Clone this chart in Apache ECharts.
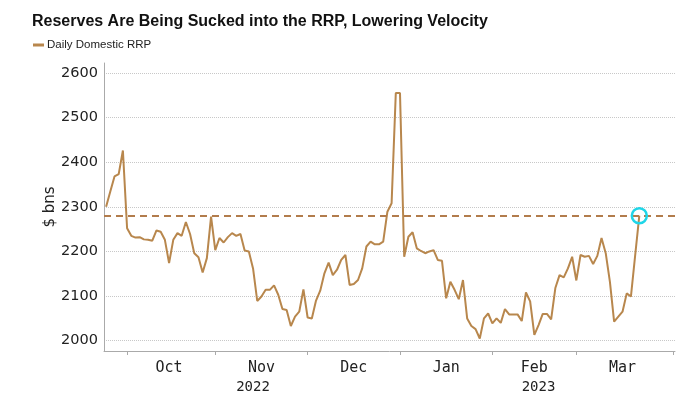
<!DOCTYPE html>
<html><head><meta charset="utf-8">
<script src="https://cdn.jsdelivr.net/npm/echarts@6/dist/echarts.min.js"></script>
<style>html,body{margin:0;padding:0;background:#fff}#c{width:700px;height:394px}</style>
</head><body><div id="c"></div>
<script>
const titleText = 'Reserves Are Being Sucked into the RRP, Lowering Velocity';
const seriesName = 'Daily Domestic RRP';
const yAxisName = '$ bns';
// weekday axis range
const firstDay = '2022-09-26';
const lastDay = '2023-04-03';
// Daily Domestic RRP, $ bn, one value per weekday starting 2022-09-26
const rrpValues = [
  2300, 2334, 2368, 2373, 2426, 2252, 2235, 2231, 2232, 2227,
  2226, 2224, 2247, 2244, 2226, 2174, 2226, 2241, 2235, 2266,
  2239, 2196, 2187, 2153, 2185, 2278, 2203, 2230, 2220, 2232,
  2241, 2235, 2239, 2202, 2200, 2162, 2089, 2099, 2114, 2114,
  2124, 2103, 2071, 2069, 2033, 2054, 2065, 2115, 2052, 2050,
  2090, 2112, 2151, 2175, 2147, 2159, 2181, 2192, 2125, 2127,
  2136, 2162, 2211, 2222, 2216, 2216, 2222, 2289, 2308, 2555,
  2555, 2188, 2233, 2243, 2207, 2201, 2196, 2200, 2203, 2181,
  2179, 2095, 2132, 2114, 2093, 2136, 2050, 2033, 2026, 2005,
  2050, 2061, 2039, 2050, 2040, 2071, 2059, 2059, 2059, 2044,
  2108, 2088, 2013, 2035, 2060, 2060, 2048, 2118, 2147, 2142,
  2162, 2188, 2135, 2192, 2188, 2190, 2172, 2190, 2230, 2196,
  2132, 2043, 2054, 2065, 2106, 2099, 2190, 2280
];
const monthLabels = { '2022-10': 'Oct', '2022-11': 'Nov', '2022-12': 'Dec', '2023-01': 'Jan', '2023-02': 'Feb', '2023-03': 'Mar' };
const yearLabels = ['2022', '2023'];

// weekday categories
const days = [];
for (let t = Date.parse(firstDay + 'T00:00:00Z'); t <= Date.parse(lastDay + 'T00:00:00Z'); t += 86400000) {
  const d = new Date(t); const wd = d.getUTCDay();
  if (wd !== 0 && wd !== 6) days.push(d.toISOString().slice(0, 10));
}
const monthStarts = [];
days.forEach((d, i) => { if (i === 0 || d.slice(0, 7) !== days[i - 1].slice(0, 7)) monthStarts.push(i); });
const tickSet = new Set(monthStarts.filter(i => i > 0));
const monthLabelAt = {};
monthStarts.forEach((s, k) => {
  const e = k + 1 < monthStarts.length ? monthStarts[k + 1] : days.length;
  const key = days[s].slice(0, 7);
  if (monthLabels[key]) monthLabelAt[Math.floor((s + e) / 2)] = monthLabels[key];
});
const yearLabelAt = {};
yearLabels.forEach(y => {
  const idx = days.map((d, i) => d.slice(0, 4) === y ? i : -1).filter(i => i >= 0);
  if (idx.length) yearLabelAt[Math.round((idx[0] + idx[idx.length - 1]) / 2)] = y;
});
const lastIdx = rrpValues.length - 1;
const lastVal = rrpValues[lastIdx];

const lineColor = '#b8874d';
const chart = echarts.init(document.getElementById('c'), null, { renderer: 'canvas' });
chart.setOption({
  animation: false,
  backgroundColor: '#fff',
  title: {
    text: titleText, left: 27, top: 9,
    textStyle: { fontFamily: 'Liberation Sans', fontWeight: 'bold', fontSize: 16, color: '#111' }
  },
  legend: {
    left: 28, top: 34, itemWidth: 11, itemHeight: 3, itemGap: 10,
    icon: 'rect',
    data: [seriesName],
    textStyle: { fontFamily: 'Liberation Sans', fontSize: 11.5, color: '#222', padding: [0, 0, 0, -2] }
  },
  grid: { left: 104, right: 25, top: 63, bottom: 43 },
  xAxis: [{
    type: 'category', data: days, boundaryGap: true,
    axisLine: { show: true, lineStyle: { color: '#aaa', width: 1 } },
    axisTick: { show: true, alignWithLabel: true, length: 4, lineStyle: { color: '#aaa' }, interval: (i) => tickSet.has(i) },
    axisLabel: {
      interval: (i) => monthLabelAt[i] !== undefined,
      formatter: (v, i) => monthLabelAt[i] || '',
      fontFamily: 'DejaVu Sans Mono', fontSize: 15, color: '#222', margin: 10
    },
    splitLine: { show: false }
  }, {
    type: 'category', data: days, boundaryGap: true, position: 'bottom', offset: 19,
    axisLine: { show: false }, axisTick: { show: false },
    axisLabel: {
      interval: (i) => yearLabelAt[i] !== undefined,
      formatter: (v, i) => yearLabelAt[i] || '',
      fontFamily: 'DejaVu Sans Mono', fontSize: 14, color: '#222', margin: 10
    },
    splitLine: { show: false }
  }],
  yAxis: {
    type: 'value', min: 1977, max: 2622, minInterval: 100, maxInterval: 100,
    name: yAxisName, nameLocation: 'middle', nameGap: 46, nameMoveOverlap: false,
    nameTextStyle: { fontFamily: 'DejaVu Sans', fontSize: 15, color: '#222' },
    axisLine: { show: true, lineStyle: { color: '#aaa', width: 1 } },
    axisTick: { show: false },
    axisLabel: { formatter: (v) => (v % 100 === 0 ? String(v) : ''), fontFamily: 'DejaVu Sans', fontSize: 14.5, color: '#222', margin: 6 },
    splitLine: { show: true, showMinLine: false, showMaxLine: false, lineStyle: { type: 'dotted', color: '#c8c8c8', width: 1 } }
  },
  series: [{
    name: seriesName, type: 'line', data: rrpValues, showSymbol: false, symbol: 'none',
    lineStyle: { color: lineColor, width: 2 }, itemStyle: { color: lineColor },
    markLine: {
      silent: true, symbol: 'none', label: { show: false },
      lineStyle: { type: [7, 5], color: '#b27c4c', width: 2 },
      data: [{ yAxis: lastVal }]
    },
    markPoint: {
      silent: true, symbol: 'circle', symbolSize: 15, label: { show: false },
      itemStyle: { color: 'rgba(0,0,0,0)', borderColor: '#1fd6e8', borderWidth: 2.5 },
      data: [{ coord: [lastIdx, lastVal] }]
    }
  }]
});
</script></body></html>
